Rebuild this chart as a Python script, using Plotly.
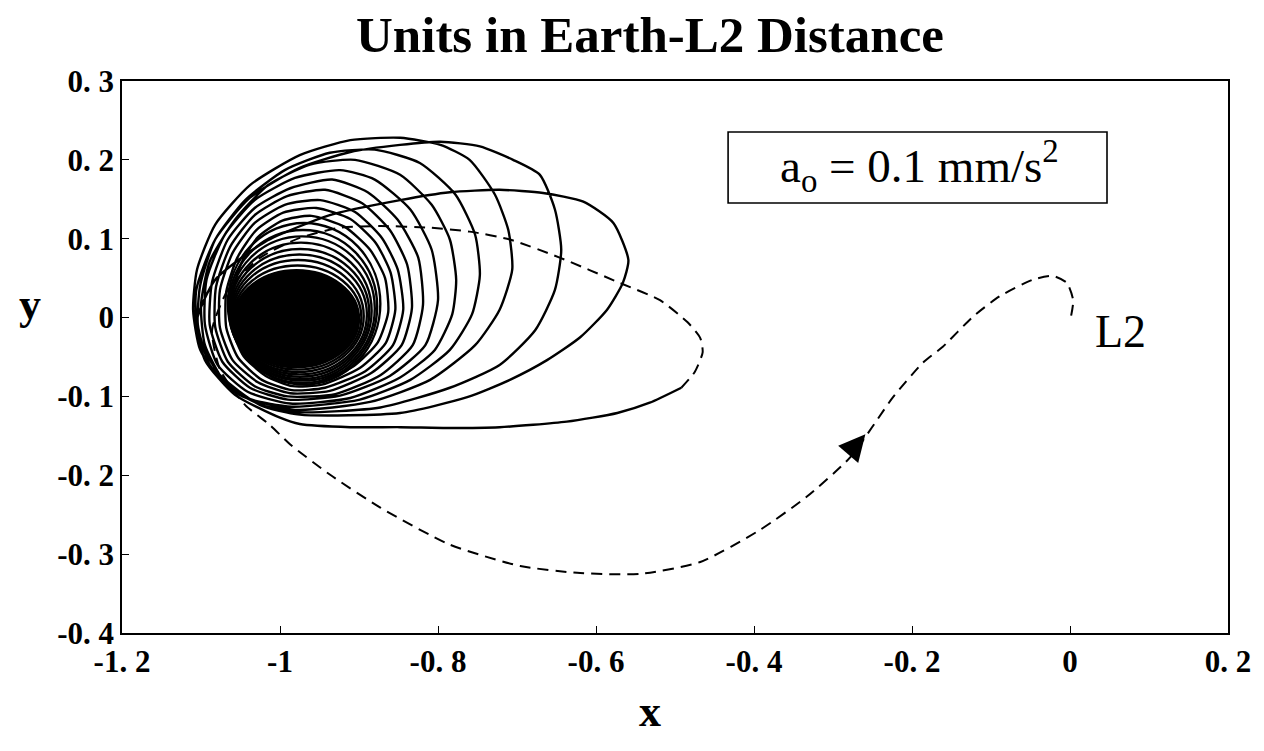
import plotly.graph_objects as go

# ---------------- tick labels ----------------
x_tickvals = [-1.2, -1.0, -0.8, -0.6, -0.4, -0.2, 0.0, 0.2]
x_ticktext = ["-1. 2", "-1", "-0. 8", "-0. 6", "-0. 4", "-0. 2", "0", "0. 2"]
y_tickvals = [0.3, 0.2, 0.1, 0.0, -0.1, -0.2, -0.3, -0.4]
y_ticktext = ["0. 3", "0. 2", "0. 1", "0", "-0. 1", "-0. 2", "-0. 3", "-0. 4"]

# ---------------- thrust spiral (solid), loops from inner to outer ----------------
loop11_x = [-0.952, -0.906, -0.876, -0.863, -0.867, -0.886, -0.918, -0.960, -0.997, -1.028, -1.049, -1.061, -1.061, -1.046, -1.018, -0.984]
loop11_y = [-0.082, -0.061, -0.031, 0.007, 0.050, 0.086, 0.115, 0.129, 0.123, 0.102, 0.069, 0.029, -0.013, -0.049, -0.074, -0.087]
loop10_x = [-0.947, -0.899, -0.866, -0.854, -0.860, -0.879, -0.911, -0.954, -0.996, -1.030, -1.054, -1.068, -1.068, -1.053, -1.023, -0.985]
loop10_y = [-0.085, -0.064, -0.032, 0.010, 0.057, 0.095, 0.125, 0.139, 0.133, 0.111, 0.076, 0.033, -0.013, -0.051, -0.079, -0.092]
loop9_x = [-0.943, -0.892, -0.857, -0.844, -0.851, -0.871, -0.905, -0.949, -0.994, -1.032, -1.060, -1.076, -1.076, -1.060, -1.028, -0.987]
loop9_y = [-0.089, -0.068, -0.035, 0.010, 0.061, 0.101, 0.134, 0.149, 0.143, 0.120, 0.082, 0.035, -0.013, -0.054, -0.082, -0.096]
loop8_x = [-0.937, -0.884, -0.846, -0.833, -0.839, -0.861, -0.896, -0.943, -0.991, -1.032, -1.063, -1.081, -1.082, -1.066, -1.032, -0.990]
loop8_y = [-0.093, -0.070, -0.035, 0.012, 0.067, 0.111, 0.145, 0.162, 0.154, 0.130, 0.090, 0.039, -0.012, -0.056, -0.087, -0.100]
loop7_x = [-0.930, -0.873, -0.832, -0.819, -0.825, -0.851, -0.889, -0.934, -0.987, -1.032, -1.066, -1.086, -1.089, -1.073, -1.038, -0.990]
loop7_y = [-0.097, -0.073, -0.035, 0.016, 0.076, 0.124, 0.159, 0.175, 0.164, 0.139, 0.099, 0.045, -0.009, -0.056, -0.089, -0.104]
loop6_x = [-0.924, -0.861, -0.816, -0.800, -0.808, -0.835, -0.880, -0.924, -0.981, -1.032, -1.070, -1.093, -1.095, -1.079, -1.041, -0.987]
loop6_y = [-0.099, -0.074, -0.035, 0.022, 0.086, 0.137, 0.175, 0.187, 0.177, 0.149, 0.105, 0.048, -0.009, -0.060, -0.094, -0.109]
loop5_x = [-0.911, -0.848, -0.804, -0.782, -0.777, -0.785, -0.808, -0.848, -0.905, -0.962, -1.015, -1.057, -1.089, -1.100, -1.095, -1.070, -1.040, -0.985]
loop5_y = [-0.102, -0.076, -0.041, 0.004, 0.048, 0.099, 0.143, 0.181, 0.200, 0.194, 0.168, 0.124, 0.071, 0.016, -0.035, -0.082, -0.103, -0.113]
loop4_x = [-0.899, -0.835, -0.785, -0.757, -0.747, -0.753, -0.778, -0.823, -0.880, -0.937, -0.994, -1.044, -1.082, -1.101, -1.104, -1.089, -1.051, -0.981]
loop4_y = [-0.104, -0.079, -0.041, 0.004, 0.054, 0.105, 0.156, 0.196, 0.213, 0.209, 0.187, 0.149, 0.099, 0.041, -0.009, -0.060, -0.098, -0.117]
loop3_x = [-0.886, -0.810, -0.753, -0.722, -0.706, -0.711, -0.728, -0.760, -0.797, -0.848, -0.911, -0.975, -1.038, -1.082, -1.105, -1.110, -1.101, -1.070, -1.023, -0.975]
loop3_y = [-0.107, -0.079, -0.035, 0.010, 0.061, 0.111, 0.156, 0.200, 0.219, 0.228, 0.225, 0.206, 0.168, 0.118, 0.061, 0.010, -0.041, -0.085, -0.111, -0.120]
loop2_x = [-0.873, -0.785, -0.722, -0.677, -0.652, -0.644, -0.652, -0.671, -0.705, -0.747, -0.797, -0.848, -0.911, -0.975, -1.038, -1.082, -1.106, -1.104, -1.076, -1.025, -0.975]
loop2_y = [-0.114, -0.089, -0.060, -0.016, 0.035, 0.086, 0.137, 0.181, 0.200, 0.217, 0.223, 0.219, 0.210, 0.190, 0.152, 0.099, 0.035, -0.022, -0.073, -0.111, -0.123]
loop1_x = [-0.848, -0.763, -0.709, -0.662, -0.620, -0.586, -0.566, -0.559, -0.578, -0.616, -0.667, -0.722, -0.785, -0.848, -0.937, -1.019, -1.082, -1.105, -1.095, -1.057, -1.000]
loop1_y = [-0.121, -0.101, -0.079, -0.054, -0.025, 0.010, 0.044, 0.073, 0.120, 0.147, 0.158, 0.162, 0.159, 0.149, 0.130, 0.096, 0.048, -0.003, -0.054, -0.098, -0.127]
final_arc_x = [-0.975, -0.911, -0.848, -0.785, -0.722, -0.637, -0.573, -0.532, -0.492]
final_arc_y = [-0.135, -0.139, -0.139, -0.140, -0.139, -0.132, -0.121, -0.108, -0.089]

# dense inner loops around the Earth (bounding extents of each loop, outer to inner;
# the last one is the saturated, fully inked centre)
core_left = [-1.066, -1.065, -1.064, -1.063, -1.062, -1.061, -1.060, -1.059, -1.058]
core_right = [-0.873, -0.877, -0.880, -0.884, -0.887, -0.890, -0.894, -0.897, -0.900]
core_top = [0.120, 0.111, 0.103, 0.095, 0.087, 0.080, 0.073, 0.066, 0.060]
core_bottom = [-0.085, -0.083, -0.080, -0.078, -0.075, -0.072, -0.069, -0.066, -0.063]

# ---------------- coast arc to L2 (dashed) ----------------
coast_x = [-0.492, -0.475, -0.465, -0.468, -0.484, -0.519, -0.570, -0.646, -0.709, -0.760, -0.810, -0.873, -0.924, -0.975,
           -1.025, -1.066, -1.086, -1.076, -1.044, -1.013, -0.987, -0.937, -0.873, -0.785, -0.696, -0.620, -0.544, -0.468,
           -0.392, -0.333, -0.278, -0.224, -0.186, -0.161, -0.123, -0.089, -0.047, -0.022, -0.004, 0.004, 0.001]
coast_y = [-0.089, -0.069, -0.044, -0.026, -0.006, 0.022, 0.044, 0.076, 0.099, 0.109, 0.114, 0.116, 0.114, 0.101,
           0.076, 0.035, -0.016, -0.066, -0.111, -0.136, -0.161, -0.199, -0.241, -0.288, -0.315, -0.324, -0.325, -0.310,
           -0.269, -0.227, -0.177, -0.101, -0.057, -0.037, 0.001, 0.027, 0.048, 0.053, 0.044, 0.022, 0.000]

# direction arrow on the coast arc: tail (inside the head) and tip
arrow_tail = (-0.283, -0.176)
arrow_tip = (-0.259, -0.148)
l2_label_pos = (0.029, -0.018)

spiral_x = (loop11_x + loop10_x + loop9_x + loop8_x + loop7_x + loop6_x + loop5_x
            + loop4_x + loop3_x + loop2_x + loop1_x + final_arc_x)
spiral_y = (loop11_y + loop10_y + loop9_y + loop8_y + loop7_y + loop6_y + loop5_y
            + loop4_y + loop3_y + loop2_y + loop1_y + final_arc_y)

SERIF = "Liberation Serif, Times New Roman, serif"

fig = go.Figure()

n_core = len(core_left)
for i in range(n_core):
    fig.add_shape(type="circle", xref="x", yref="y", layer="below",
                  x0=core_left[i], x1=core_right[i], y0=core_bottom[i], y1=core_top[i],
                  line=dict(color="black", width=2.4),
                  fillcolor="black" if i == n_core - 1 else None)

fig.add_trace(go.Scatter(x=spiral_x, y=spiral_y, mode="lines",
                         line=dict(color="black", width=2.4, shape="spline", smoothing=0.6),
                         showlegend=False, hoverinfo="skip"))
fig.add_trace(go.Scatter(x=coast_x, y=coast_y, mode="lines",
                         line=dict(color="black", width=2, dash="11px,7px", shape="spline", smoothing=0.6),
                         showlegend=False, hoverinfo="skip"))

# arrow head on the coast arc
fig.add_annotation(x=arrow_tip[0], y=arrow_tip[1], ax=arrow_tail[0], ay=arrow_tail[1],
                   xref="x", yref="y", axref="x", ayref="y", text=" ",
                   showarrow=True, arrowhead=2, arrowsize=2.4, arrowwidth=2.2, arrowcolor="black")

# L2 label
fig.add_annotation(x=l2_label_pos[0], y=l2_label_pos[1], xref="x", yref="y", text="L2",
                   showarrow=False, xanchor="left", yanchor="middle",
                   font=dict(family=SERIF, size=46, color="black"))

# boxed acceleration label
fig.add_shape(type="rect", xref="paper", yref="paper", x0=0.548, x1=0.8906, y0=0.779, y1=0.9076,
              line=dict(color="black", width=1.6), fillcolor="white", layer="above")
fig.add_annotation(x=0.7215, y=0.846, xref="paper", yref="paper",
                   text="a<sub>o</sub> = 0.1 mm/s<sup>2</sup>", showarrow=False,
                   xanchor="center", yanchor="middle",
                   font=dict(family=SERIF, size=47, color="black"))

# axis titles (placed as in the reference)
fig.add_annotation(x=0.4774, y=-0.143, xref="paper", yref="paper", text="<b>x</b>",
                   showarrow=False, xanchor="center", yanchor="middle",
                   font=dict(family=SERIF, size=44, color="black"))
fig.add_annotation(x=-0.083, y=0.595, xref="paper", yref="paper", text="<b>y</b>",
                   showarrow=False, xanchor="center", yanchor="middle",
                   font=dict(family=SERIF, size=44, color="black"))

fig.update_layout(
    width=1264, height=751, autosize=False,
    margin=dict(l=122, r=36, t=81, b=118),
    paper_bgcolor="white", plot_bgcolor="white",
    title=dict(text="<b>Units in Earth-L2 Distance</b>", x=650 / 1264, xanchor="center",
               y=1 - 34 / 751, yanchor="middle", xref="container", yref="container",
               font=dict(family=SERIF, size=51, color="black")),
    xaxis=dict(range=[-1.2, 0.2], tickvals=x_tickvals, ticktext=x_ticktext,
               showgrid=False, zeroline=False, showline=True, linecolor="black", linewidth=1.5,
               mirror=True, ticks="inside", ticklen=7, tickcolor="black", tickwidth=1,
               tickfont=dict(family=SERIF, size=31, color="black", weight="bold")),
    yaxis=dict(range=[-0.4, 0.3], tickvals=y_tickvals, ticktext=y_ticktext,
               showgrid=False, zeroline=False, showline=True, linecolor="black", linewidth=1.5,
               mirror=True, ticks="inside", ticklen=7, tickcolor="black", tickwidth=1,
               tickfont=dict(family=SERIF, size=31, color="black", weight="bold")),
)

fig.write_html("out.html")
